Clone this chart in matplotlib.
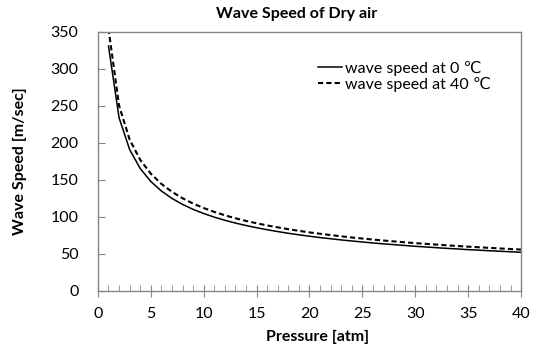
import numpy as np
import matplotlib.pyplot as plt
from matplotlib.ticker import MultipleLocator

# pressure [atm] and wave speed [m/sec]
pressure = list(range(1, 41))
speed_0c = [331.0, 234.1, 191.1, 165.5, 148.0, 135.1, 125.1, 117.0, 110.3, 104.7,
            99.8, 95.6, 91.8, 88.5, 85.5, 82.8, 80.3, 78.0, 75.9, 74.0,
            72.2, 70.6, 69.0, 67.6, 66.2, 64.9, 63.7, 62.6, 61.5, 60.4,
            59.5, 58.5, 57.6, 56.8, 55.9, 55.2, 54.4, 53.7, 53.0, 52.3]
speed_40c = [354.4, 250.6, 204.6, 177.2, 158.5, 144.7, 134.0, 125.3, 118.1, 112.1,
             106.9, 102.3, 98.3, 94.7, 91.5, 88.6, 86.0, 83.5, 81.3, 79.2,
             77.3, 75.6, 73.9, 72.3, 70.9, 69.5, 68.2, 67.0, 65.8, 64.7,
             63.7, 62.7, 61.7, 60.8, 59.9, 59.1, 58.3, 57.5, 56.7, 56.0]

plt.rcParams['font.family'] = ['Lato', 'DejaVu Sans']
grey = '#868686'

fig = plt.figure(figsize=(5.35, 3.47), dpi=100)
ax = fig.add_axes([0.183, 0.1614, 0.791, 0.7464])

ax.plot(pressure, speed_0c, color='black', lw=1.1, label='wave speed at 0 \u2103')
ax.plot(pressure, speed_40c, color='black', lw=1.5, ls=(0, (2.5, 1.5)),
        label='wave speed at 40 \u2103')

ax.set_xlim(0, 40)
ax.set_ylim(0, 350)
ax.xaxis.set_major_locator(MultipleLocator(5))
ax.xaxis.set_minor_locator(MultipleLocator(1))
ax.yaxis.set_major_locator(MultipleLocator(50))

for s in ax.spines.values():
    s.set_color(grey)
    s.set_linewidth(1.0)

ax.tick_params(axis='y', which='major', direction='in', length=5, color=grey,
               labelsize=11.5, pad=14)
ax.tick_params(axis='x', which='major', direction='inout', length=9, color=grey,
               labelsize=11.5, pad=7)
ax.tick_params(axis='x', which='minor', direction='in', length=4, color=grey)

ax.set_xlabel('Pressure [atm]', fontsize=11.5, fontweight='bold')
ax.xaxis.set_label_coords(0.52, -0.15)
ax.set_ylabel('Wave Speed [m/sec]', fontsize=11.5, fontweight='bold', labelpad=17)
fig.text(297 / 535, 1 - 14 / 347, 'Wave Speed of Dry air', ha='center', va='center',
         fontsize=11.5, fontweight='bold')

ax.legend(loc='upper left', bbox_to_anchor=(0.52, 0.888), frameon=False,
          fontsize=11.5, handlelength=1.5, handletextpad=0.2, labelspacing=0.05,
          borderaxespad=0, borderpad=0)

fig.savefig('out.png', dpi=100)
